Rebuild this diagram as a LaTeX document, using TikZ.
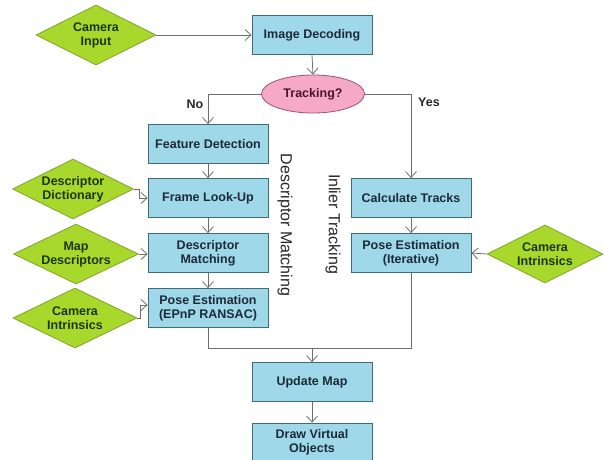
\documentclass[tikz,border=0pt]{standalone}
\usepackage{fontspec}
\setmainfont{Liberation Sans}
\usepackage{tikz}
\usetikzlibrary{shapes.geometric,arrows.meta}

\definecolor{boxfill}{HTML}{9ED8E9}
\definecolor{boxline}{HTML}{3F6A7E}
\definecolor{boxtext}{HTML}{1C2A3A}
\definecolor{dmdfill}{HTML}{A9D82C}
\definecolor{dmdline}{HTML}{7FA32A}
\definecolor{dmdtext}{HTML}{1D3410}
\definecolor{ovlfill}{HTML}{F5A9C6}
\definecolor{ovlline}{HTML}{A0506E}
\definecolor{ovltext}{HTML}{4E1228}
\definecolor{flowline}{HTML}{6E6E6E}

\begin{document}
\begin{tikzpicture}[x=1pt,y=-1pt,
		procbox/.style={rectangle, draw=boxline, fill=boxfill, line width=0.8pt, minimum width=120pt, minimum height=39pt, inner sep=0pt, align=center, text=boxtext, font=\fontsize{12.5}{14}\selectfont\bfseries},
		inputdmd/.style={diamond, draw=dmdline, fill=dmdfill, line width=0.8pt, minimum width=120pt, minimum height=60pt, inner sep=-12pt, align=center, text=dmdtext, font=\fontsize{12.5}{14}\selectfont\bfseries},
		testoval/.style={ellipse, draw=ovlline, fill=ovlfill, line width=0.8pt, minimum width=103pt, minimum height=38pt, inner sep=0pt, text=ovltext, font=\fontsize{12.5}{14}\selectfont\bfseries},
		branch/.style={text=black!85, font=\fontsize{12.5}{14}\selectfont\bfseries},
		sidelabel/.style={rotate=-90, text=black!85, font=\fontsize{16}{18}\selectfont},
		flow/.style={draw=flowline, line width=0.8pt, -{Straight Barb[length=6pt,width=11pt]}},
		joinline/.style={draw=flowline, line width=0.8pt}]
	\useasboundingbox (0,0) rectangle (604,459);
	\node[inputdmd] (caminput) at (96,35) {Camera\\Input};
	\node[procbox] (decode) at (312,35) {Image Decoding};
	\node[testoval] (tracking) at (313,94) {Tracking?};
	\node[branch] (no) at (195,104) {No};
	\node[branch] (yes) at (429,102) {Yes};
	\node[procbox] (featdet) at (208,144) {Feature Detection};
	\node[procbox] (lookup) at (208,198) {Frame Look-Up};
	\node[procbox] (descmatch) at (208,253) {Descriptor\\Matching};
	\node[procbox] (poseepnp) at (208,308) {Pose Estimation\\(EPnP RANSAC)};
	\node[inputdmd, minimum width=121pt] (descdict) at (73,189) {Descriptor\\Dictionary};
	\node[inputdmd, minimum width=125pt] (mapdesc) at (76,254) {Map\\Descriptors};
	\node[inputdmd, minimum width=124pt] (camintl) at (75,318) {Camera\\Intrinsics};
	\node[sidelabel] (dmlabel) at (285,225) {Descriptor Matching};
	\node[sidelabel] (itlabel) at (333,224) {Inlier Tracking};
	\node[procbox] (calctracks) at (411,198) {Calculate Tracks};
	\node[procbox] (poseiter) at (411,253) {Pose Estimation\\(Iterative)};
	\node[inputdmd, minimum width=116pt, minimum height=58pt] (camintr) at (545,254) {Camera\\Intrinsics};
	\coordinate (merge) at (312,348);
	\node[procbox] (updmap) at (312,382) {Update Map};
	\node[procbox] (drawobj) at (312,442.5) {Draw Virtual\\Objects};

	\draw[flow] (caminput.east) -- (decode.west);
	\draw[flow] (decode.south) -- (tracking.north);
	\draw[flow] (tracking.west) -| (featdet.north);
	\draw[flow] (tracking.east) -| (calctracks.north);
	\draw[flow] (featdet) -- (lookup);
	\draw[flow] (lookup) -- (descmatch);
	\draw[flow] (descmatch) -- (poseepnp);
	\draw[flow] (calctracks) -- (poseiter);
	\draw[flow] (descdict.east) -- ++(5,0) |- (lookup.west);
	\draw[flow] (mapdesc.east) -- (mapdesc.east -| descmatch.west);
	\draw[flow] (camintl.east) -- ++(3,0) |- ([yshift=3pt]poseepnp.west);
	\draw[flow] (camintr.west) -- (poseiter.east);
	\draw[joinline] (poseiter.south) |- (merge);
	\draw[joinline] (poseepnp.south) |- (merge);
	\draw[flow] (merge) -- (updmap.north);
	\draw[flow] (updmap) -- (drawobj);
\end{tikzpicture}
\end{document}
